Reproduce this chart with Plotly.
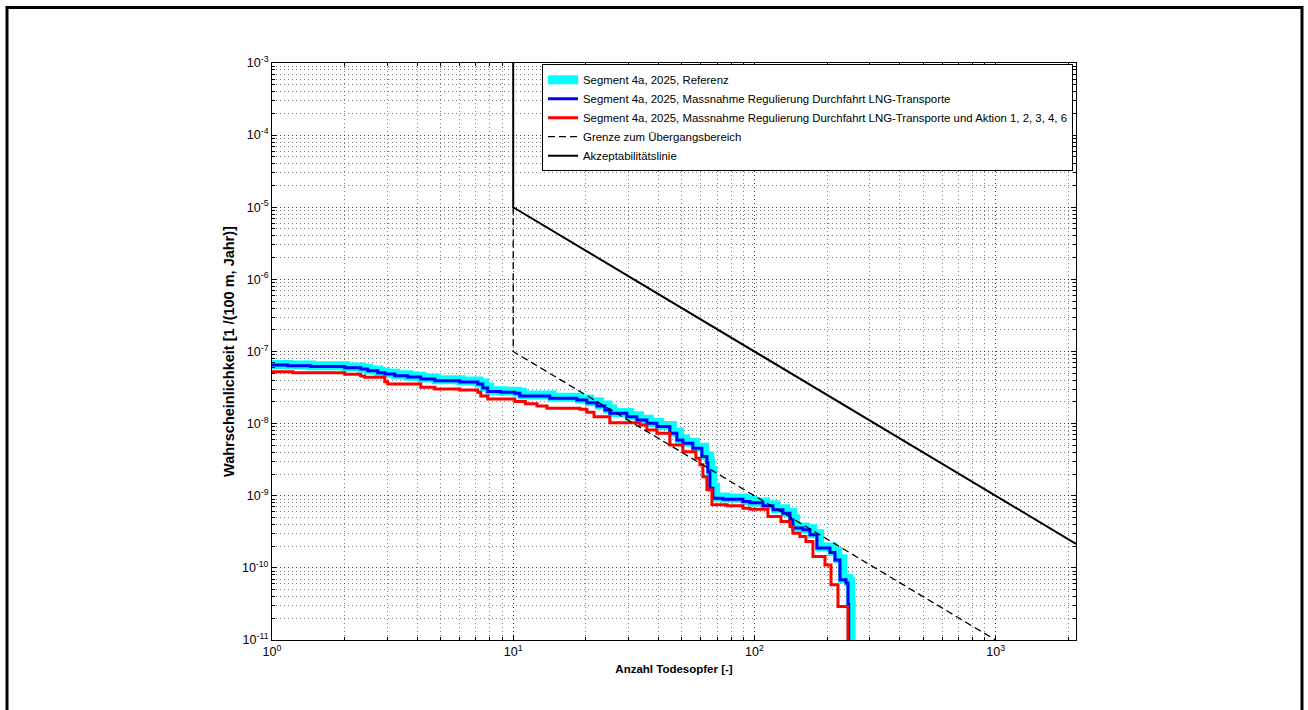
import plotly.graph_objects as go

# ---------------- data ----------------
# Segment 4a, 2025, Referenz (cyan)
ref_n = [1, 1.17, 1.46, 2.02, 2.35, 2.51, 2.77, 2.96, 3.26, 3.69, 4.18, 4.78, 6.07, 7.22, 7.6, 7.98,
         9.05, 10.4, 10.9, 14.5, 18.8, 20.7, 22.8, 24.6, 25.8, 30.3, 33.4, 36.7, 40.4, 45.7, 48.9,
         51.8, 57.0, 62.1, 65.2, 65.8, 67.1, 69.1, 76.0, 92.0, 98.3, 111.4, 122.6, 134.8, 144.1,
         148.2, 163.1, 174.4, 186.4, 211.1, 221.5, 232.3, 246.0, 250.8, 252]
ref_p = [6.6e-8, 6.5e-8, 6.35e-8, 6.1e-8, 5.85e-8, 5.55e-8, 5.2e-8, 5.0e-8, 4.75e-8, 4.55e-8,
         4.28e-8, 4.05e-8, 3.9e-8, 3.65e-8, 3.22e-8, 2.86e-8, 2.8e-8, 2.72e-8, 2.5e-8, 2.32e-8,
         2.2e-8, 2.01e-8, 1.81e-8, 1.6e-8, 1.43e-8, 1.29e-8, 1.15e-8, 1.04e-8, 9.4e-9, 7.6e-9,
         6.1e-9, 5.5e-9, 4.7e-9, 3.6e-9, 2.95e-9, 2.22e-9, 1.31e-9, 9.6e-10, 9.3e-10, 8.6e-10,
         8.2e-10, 7.5e-10, 6.6e-10, 5.9e-10, 4.8e-10, 3.7e-10, 3.5e-10, 2.97e-10, 1.95e-10,
         1.69e-10, 1.34e-10, 7.1e-11, 6.4e-11, 3.2e-11, 1e-12]

# Massnahme Regulierung Durchfahrt LNG-Transporte (blue)
lng_n = [1, 1.162, 1.447, 2.002, 2.333, 2.494, 2.744, 2.934, 3.228, 3.655, 4.139, 4.731, 6.004,
         7.131, 7.482, 7.847, 8.884, 10.16, 10.65, 14.18, 18.36, 20.20, 22.23, 23.99, 25.16,
         29.59, 32.56, 35.83, 39.41, 44.62, 47.71, 50.51, 55.56, 60.57, 63.53, 64.14, 65.38,
         67.30, 74.02, 89.62, 95.80, 108.5, 119.4, 131.3, 140.4, 144.4, 158.9, 169.9, 181.6,
         205.7, 215.8, 226.3, 239.6, 244.3, 246]
lng_p = [6.50e-8, 6.36e-8, 6.20e-8, 5.97e-8, 5.73e-8, 5.42e-8, 5.09e-8, 4.88e-8, 4.62e-8, 4.43e-8,
         4.16e-8, 3.94e-8, 3.78e-8, 3.55e-8, 3.13e-8, 2.78e-8, 2.72e-8, 2.64e-8, 2.42e-8, 2.25e-8,
         2.13e-8, 1.95e-8, 1.76e-8, 1.55e-8, 1.39e-8, 1.25e-8, 1.12e-8, 1.01e-8, 9.09e-9, 7.36e-9,
         5.94e-9, 5.35e-9, 4.56e-9, 3.49e-9, 2.86e-9, 2.16e-9, 1.27e-9, 9.26e-10, 8.97e-10,
         8.32e-10, 7.98e-10, 7.25e-10, 6.38e-10, 5.74e-10, 4.64e-10, 3.56e-10, 3.37e-10,
         2.87e-10, 1.88e-10, 1.63e-10, 1.29e-10, 6.84e-11, 6.15e-11, 3.08e-11, 1e-12]

# ... und Aktion 1, 2, 3, 4, 6 (red)
akt_n = [1, 1.219, 2.002, 2.333, 2.424, 2.934, 3.019, 4.139, 4.731, 6.004, 7.131, 7.337, 7.847,
         10.16, 11.23, 12.55, 13.81, 18.89, 20.20, 21.63, 25.16, 33.55, 35.83, 39.41, 44.62,
         50.51, 57.19, 59.43, 61.15, 63.53, 66.67, 76.91, 89.62, 95.80, 113.8, 128.8, 140.4,
         144.4, 154.4, 163.5, 174.8, 196.1, 207.7, 222.0, 244.3]
akt_p = [5.25e-8, 5.09e-8, 4.83e-8, 4.58e-8, 4.39e-8, 3.82e-8, 3.55e-8, 3.19e-8, 3.03e-8, 2.93e-8,
         2.72e-8, 2.42e-8, 2.20e-8, 2.02e-8, 1.88e-8, 1.76e-8, 1.63e-8, 1.58e-8, 1.44e-8, 1.25e-8,
         1.03e-8, 9.59e-9, 8.18e-9, 7.36e-9, 5.07e-9, 4.09e-9, 3.32e-9, 2.68e-9, 1.84e-9, 1.21e-9,
         7.48e-10, 7.25e-10, 6.73e-10, 6.52e-10, 5.15e-10, 4.39e-10, 3.74e-10, 3.03e-10,
         2.72e-10, 2.32e-10, 1.44e-10, 1.10e-10, 5.83e-11, 2.92e-11, 1e-12]

# Grenze zum Uebergangsbereich (dashed)
grenze_n = [10, 10, 1000]
grenze_p = [1e-5, 1e-7, 1e-11]

# Akzeptabilitaetslinie (solid)
akz_n = [10, 10, 2154]
akz_p = [1e-3, 1e-5, 2.155e-10]

names = [
    "Segment 4a, 2025, Referenz",
    "Segment 4a, 2025, Massnahme Regulierung Durchfahrt LNG-Transporte",
    "Segment 4a, 2025, Massnahme Regulierung Durchfahrt LNG-Transporte und Aktion 1, 2, 3, 4, 6",
    "Grenze zum Übergangsbereich",
    "Akzeptabilitätslinie",
]

x_major = [1, 10, 100, 1000]
x_major_text = ["10<sup>0</sup>", "10<sup>1</sup>", "10<sup>2</sup>", "10<sup>3</sup>"]
y_exps = [-11, -10, -9, -8, -7, -6, -5, -4, -3]
y_major = [10.0 ** e for e in y_exps]
y_major_text = ["10<sup>%d</sup>" % e for e in y_exps]
x_minor = [m * 10 ** e for e in range(0, 4) for m in range(2, 10)]
y_minor = [m * 10.0 ** e for e in range(-11, -3) for m in range(2, 10)]

FONT = "Liberation Sans, Arial, sans-serif"

fig = go.Figure()
fig.add_trace(go.Scatter(x=ref_n, y=ref_p, mode="lines", line=dict(color="#00FFFF", width=9, shape="hv"),
                         name=names[0]))
fig.add_trace(go.Scatter(x=lng_n, y=lng_p, mode="lines", line=dict(color="#0000FF", width=3, shape="hv"),
                         name=names[1]))
fig.add_trace(go.Scatter(x=akt_n, y=akt_p, mode="lines", line=dict(color="#FF0000", width=3, shape="hv"),
                         name=names[2]))
fig.add_trace(go.Scatter(x=grenze_n, y=grenze_p, mode="lines",
                         line=dict(color="black", width=1.3, dash="7px,4px"), name=names[3]))
fig.add_trace(go.Scatter(x=akz_n, y=akz_p, mode="lines", line=dict(color="black", width=2), name=names[4]))

grid_major = "rgba(0,0,0,0.75)"
grid_minor = "rgba(0,0,0,0.5)"

common = dict(
    showline=True, linecolor="black", linewidth=1, mirror="ticks",
    ticks="inside", ticklen=5, tickcolor="black",
    showgrid=True, gridcolor=grid_major, griddash="1px,3px", gridwidth=1,
    zeroline=False,
    tickfont=dict(family=FONT, size=12.5, color="black"),
)

fig.update_xaxes(
    type="log", range=[0, 3.3332], tickmode="array", tickvals=x_major, ticktext=x_major_text,
    minor=dict(tickmode="array", tickvals=x_minor, ticks="inside", ticklen=3, tickcolor="black",
               showgrid=True, gridcolor=grid_minor, griddash="1px,3px", gridwidth=1),
    title=dict(text="<b>Anzahl Todesopfer [-]</b>", font=dict(family=FONT, size=11.5, color="black"),
               standoff=6),
    **common,
)
fig.update_yaxes(
    type="log", range=[-11, -3], tickmode="array", tickvals=y_major, ticktext=y_major_text,
    minor=dict(tickmode="array", tickvals=y_minor, ticks="inside", ticklen=3, tickcolor="black",
               showgrid=True, gridcolor=grid_minor, griddash="1px,3px", gridwidth=1),
    title=dict(text="<b>Wahrscheinlichkeit [1 /(100 m, Jahr)]</b>",
               font=dict(family=FONT, size=14.5, color="black"), standoff=3),
    **common,
)

fig.update_layout(
    width=1308, height=710,
    margin=dict(l=272, r=232, t=63, b=70),
    paper_bgcolor="white", plot_bgcolor="white",
    font=dict(family=FONT, size=11, color="black"),
    legend=dict(
        x=0.9963, y=0.998, xanchor="right", yanchor="top",
        bgcolor="white", bordercolor="black", borderwidth=1,
        font=dict(family=FONT, size=11.4, color="black"),
        tracegroupgap=0, itemwidth=30,
    ),
    showlegend=True,
)

# outer figure frame
fig.add_shape(type="rect", xref="paper", yref="paper",
              x0=-0.3296, x1=1.2811, y0=-0.13, y1=1.0962,
              line=dict(color="black", width=3), fillcolor="rgba(0,0,0,0)", layer="above")

fig.write_html("out.html")
